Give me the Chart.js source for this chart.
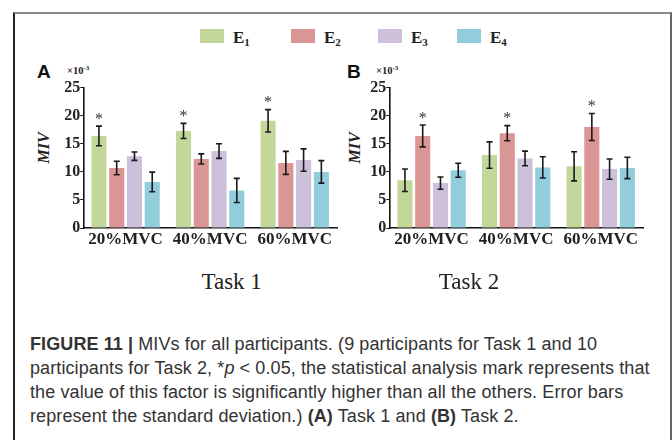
<!DOCTYPE html>
<html><head><meta charset="utf-8">
<script src="https://cdn.jsdelivr.net/npm/chart.js@4"></script>
<style>
body{margin:0;width:672px;height:440px;overflow:hidden;background:#fff;position:relative;}
#frame{position:absolute;left:13px;top:12px;width:655px;height:460px;border-top:2px solid #8a8a8a;border-left:2px solid #222;border-right:2px solid #666;}
canvas{position:absolute;top:0;}
.leg{position:absolute;top:29px;width:24px;height:14px;}
.legt{position:absolute;top:28.5px;font:bold 17px "Liberation Serif";line-height:17px;color:#222;}
.legt sub{font-size:11px;vertical-align:-3px;line-height:0;}
.pl{position:absolute;top:61.6px;font:bold 19px "Liberation Sans";line-height:19px;color:#111;}
.mag{position:absolute;top:64.8px;font:bold 10.5px "Liberation Serif";line-height:11px;color:#222;}
.mag sup{font-size:7px;vertical-align:4px;line-height:0;}
.miv{position:absolute;font:italic bold 16px "Liberation Serif";line-height:16px;color:#222;transform:translate(-50%,-50%) rotate(-90deg);}
.task{position:absolute;top:269.7px;width:120px;text-align:center;font:23px "Liberation Serif";line-height:23px;color:#222;}
#cap{position:absolute;left:30px;top:331.8px;font:18px "Liberation Sans";line-height:24px;letter-spacing:0.1px;color:#333;white-space:nowrap;}
</style></head><body>
<div id="frame"></div>

<div class="leg" style="left:200px;background:#C4D79B"></div><div class="legt" style="left:233px">E<sub>1</sub></div>
<div class="leg" style="left:291px;background:#DA9694"></div><div class="legt" style="left:324px">E<sub>2</sub></div>
<div class="leg" style="left:378px;background:#CCC0DA"></div><div class="legt" style="left:411px">E<sub>3</sub></div>
<div class="leg" style="left:457px;background:#92CDDC"></div><div class="legt" style="left:490px">E<sub>4</sub></div>

<div class="pl" style="left:37px">A</div>
<div class="mag" style="left:67px">×10<sup>-3</sup></div>
<div class="pl" style="left:347px">B</div>
<div class="mag" style="left:376px">×10<sup>-3</sup></div>

<div class="miv" style="left:44px;top:148px">MIV</div>
<div class="miv" style="left:355px;top:148px">MIV</div>

<canvas id="cA" width="340" height="258" style="left:0px"></canvas>
<canvas id="cB" width="340" height="258" style="left:306px"></canvas>

<div class="task" style="left:171.7px">Task 1</div>
<div class="task" style="left:409px">Task 2</div>

<div id="cap"><b>FIGURE 11 |</b> MIVs for all participants. (9 participants for Task 1 and 10<br>participants for Task 2, *<i>p</i> &lt; 0.05, the statistical analysis mark represents that<br>the value of this factor is significantly higher than all the others. Error bars<br>represent the standard deviation.) <b>(A)</b> Task 1 and <b>(B)</b> Task 2.</div>

<script>
const categories = ['20%MVC', '40%MVC', '60%MVC'];
const seriesNames = ['E1', 'E2', 'E3', 'E4'];
const seriesColors = ['#C4D79B', '#DA9694', '#CCC0DA', '#92CDDC'];
const yTicks = [0, 5, 10, 15, 20, 25];

// Task 1 (values x10^-3) and standard deviations
const task1E1 = [16.4, 17.3, 19.1];
const task1E2 = [10.7, 12.3, 11.6];
const task1E3 = [12.8, 13.7, 12.1];
const task1E4 = [8.2, 6.7, 10.0];
const task1E1Sd = [1.75, 1.35, 2.0];
const task1E2Sd = [1.2, 0.9, 2.05];
const task1E3Sd = [0.75, 1.3, 2.0];
const task1E4Sd = [1.75, 2.15, 2.0];
const task1Sig = 0; // E1 significantly higher

// Task 2
const task2E1 = [8.5, 13.0, 11.0];
const task2E2 = [16.4, 16.9, 18.0];
const task2E3 = [8.0, 12.4, 10.5];
const task2E4 = [10.3, 10.8, 10.7];
const task2E1Sd = [2.0, 2.35, 2.6];
const task2E2Sd = [1.95, 1.35, 2.4];
const task2E3Sd = [1.1, 1.3, 1.8];
const task2E4Sd = [1.25, 1.9, 1.9];
const task2Sig = 1; // E2 significantly higher

const errorBarPlugin = {
  id: 'errbars',
  afterDatasetsDraw(chart) {
    const ctx = chart.ctx, ys = chart.scales.y;
    chart.data.datasets.forEach((ds, i) => {
      const meta = chart.getDatasetMeta(i);
      meta.data.forEach((bar, j) => {
        const v = ds.data[j], e = ds.errors[j];
        const yt = ys.getPixelForValue(v + e), yb = ys.getPixelForValue(v - e);
        ctx.save();
        ctx.strokeStyle = '#1a1a1a'; ctx.lineWidth = 1.6;
        ctx.beginPath();
        ctx.moveTo(bar.x, yt); ctx.lineTo(bar.x, yb);
        ctx.moveTo(bar.x - 3, yt); ctx.lineTo(bar.x + 3, yt);
        ctx.moveTo(bar.x - 3, yb); ctx.lineTo(bar.x + 3, yb);
        ctx.stroke();
        if (ds.sig) {
          ctx.fillStyle = '#333';
          ctx.font = '16px "Liberation Serif"';
          ctx.textAlign = 'center';
          ctx.textBaseline = 'alphabetic';
          ctx.fillText('*', bar.x, yt - 2.5);
        }
        ctx.restore();
      });
    });
  }
};

function makeChart(id, vals, sds, sigIdx) {
  const datasets = vals.map((d, i) => ({
    label: seriesNames[i],
    data: d,
    errors: sds[i],
    sig: i === sigIdx,
    backgroundColor: seriesColors[i],
    borderWidth: 0,
    categoryPercentage: 0.84,
    barPercentage: 0.85
  }));
  return new Chart(document.getElementById(id), {
    type: 'bar',
    data: { labels: categories, datasets },
    plugins: [errorBarPlugin],
    options: {
      responsive: false,
      animation: false,
      events: [],
      layout: { padding: { top: 87.7, right: 3, left: 0, bottom: 0 } },
      plugins: { legend: { display: false }, tooltip: { enabled: false }, title: { display: false } },
      scales: {
        x: {
          grid: { display: true, drawOnChartArea: false, drawTicks: false },
          border: { display: true, color: '#111', width: 1.6 },
          ticks: { padding: 1, color: '#222', font: { family: 'Liberation Serif', size: 17, weight: 'bold' } },
          afterFit(s) { s.height = 30; }
        },
        y: {
          min: 0, max: 25,
          afterBuildTicks(s) { s.ticks = yTicks.map(v => ({ value: v })); },
          grid: { display: true, drawOnChartArea: false, drawTicks: true, tickLength: 3, color: '#111', lineWidth: 1 },
          border: { display: true, color: '#111', width: 1.6 },
          ticks: { padding: 0, color: '#222', font: { family: 'Liberation Serif', size: 16, weight: 'bold' } },
          afterFit(s) { s.width = 83.3; }
        }
      }
    }
  });
}

makeChart('cA', [task1E1, task1E2, task1E3, task1E4], [task1E1Sd, task1E2Sd, task1E3Sd, task1E4Sd], task1Sig);
makeChart('cB', [task2E1, task2E2, task2E3, task2E4], [task2E1Sd, task2E2Sd, task2E3Sd, task2E4Sd], task2Sig);
</script>
</body></html>
